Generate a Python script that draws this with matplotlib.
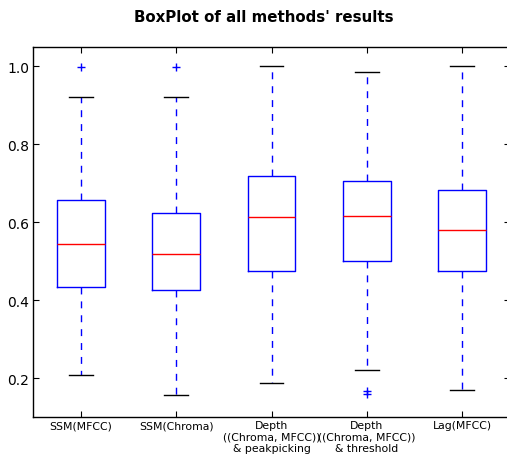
import matplotlib
matplotlib.use("Agg")
import matplotlib.pyplot as plt

labels = ["SSM(MFCC)", "SSM(Chroma)", "Depth\n((Chroma, MFCC))\n& peakpicking",
          "Depth\n((Chroma, MFCC))\n& threshold", "Lag(MFCC)"]
whisker_low = [0.208, 0.157, 0.188, 0.221, 0.169]
q1 = [0.434, 0.426, 0.475, 0.501, 0.474]
median = [0.545, 0.519, 0.614, 0.617, 0.579]
q3 = [0.656, 0.623, 0.720, 0.707, 0.684]
whisker_high = [0.921, 0.921, 1.0, 0.987, 1.0]
fliers = [[0.999], [0.999], [], [0.166, 0.160], []]

stats = []
for i in range(len(labels)):
    stats.append(dict(label=labels[i], whislo=whisker_low[i], q1=q1[i], med=median[i],
                      q3=q3[i], whishi=whisker_high[i], fliers=fliers[i]))

fig = plt.figure(figsize=(5.07, 4.56), dpi=100)
ax = fig.add_axes([33.4 / 507, 38 / 456, 476.2 / 507, 370 / 456])
ax.bxp(stats, widths=0.5, showfliers=True,
       boxprops=dict(color="blue", linewidth=1),
       medianprops=dict(color="red", linewidth=1),
       whiskerprops=dict(color="blue", linestyle="--", linewidth=1, dashes=(5, 5)),
       capprops=dict(color="black", linewidth=1),
       flierprops=dict(marker="+", markeredgecolor="blue", markersize=6, linestyle="none"))
ax.set_xlim(0.5, 5.5)
ax.set_ylim(0.1, 1.05)
ax.set_yticks([0.2, 0.4, 0.6, 0.8, 1.0])
ax.set_yticklabels(["0.2", "0.4", "0.6", "0.8", "1.0"])
ax.tick_params(axis="both", direction="in", top=True, right=True, length=4)
ax.tick_params(axis="y", labelsize=10, pad=3)
ax.tick_params(axis="x", labelsize=7.8, pad=2.5)
for lbl in ax.get_xticklabels():
    lbl.set_linespacing(1.15)
for s in ax.spines.values():
    s.set_linewidth(1)
fig.text(263.5 / 507, 1 - 17 / 456, "BoxPlot of all methods' results", ha="center", va="center",
         fontsize=10.8, fontweight="bold")
fig.savefig("out.png", dpi=100)
